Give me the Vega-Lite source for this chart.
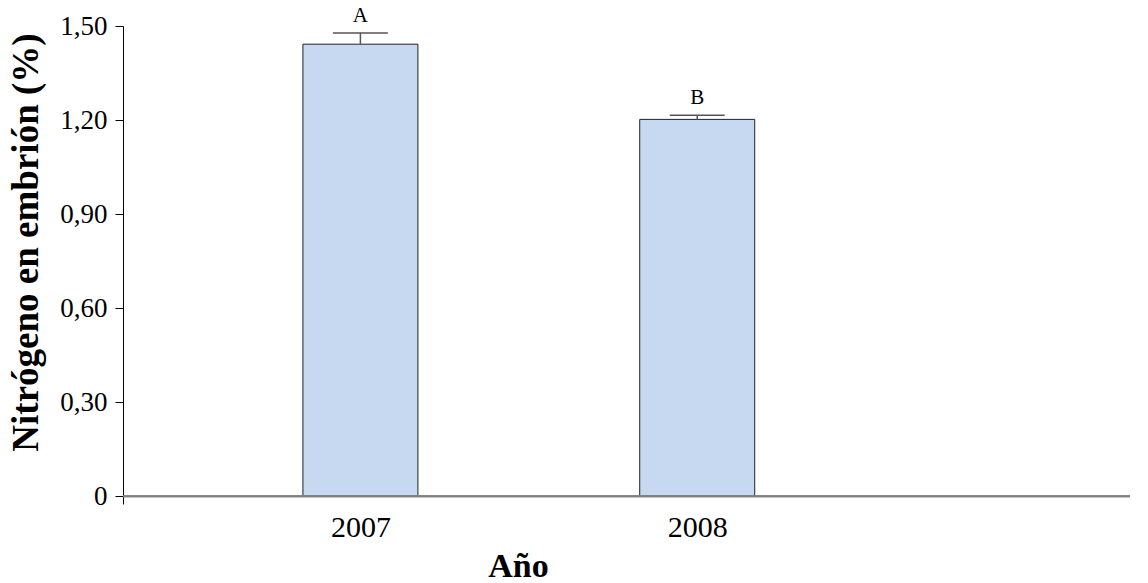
{
  "$schema": "https://vega.github.io/schema/vega-lite/v6.json",
  "autosize": {"type": "none"},
  "padding": {"left": 123, "top": 26, "right": 18, "bottom": 79},
  "width": 1007,
  "height": 478,
  "background": "white",
  "config": {
    "view": {"stroke": null},
    "font": "Liberation Serif"
  },
  "data": {
    "values": [
      {"year": 2007, "value": 1.442, "upper": 1.478, "letter": "A"},
      {"year": 2008, "value": 1.202, "upper": 1.215, "letter": "B"}
    ]
  },
  "layer": [
    {
      "mark": {"type": "bar", "size": 115, "fill": "#C6D9F0", "stroke": "#222222", "strokeWidth": 1},
      "encoding": {
        "x": {
          "field": "year", "type": "quantitative",
          "scale": {"domain": [2006.31, 2009.27], "nice": false, "zero": false},
          "axis": {
            "values": [2007, 2008], "format": "d", "ticks": false, "domain": false, "grid": false,
            "labelFont": "Liberation Serif", "labelFontSize": 30, "labelColor": "black", "labelPadding": 8,
            "title": "Año", "titleFont": "Liberation Serif", "titleFontSize": 34, "titleFontWeight": "bold",
            "titleColor": "black", "titleX": 395, "titleY": 72, "titleAlign": "center", "titleBaseline": "alphabetic"
          }
        },
        "y": {
          "field": "value", "type": "quantitative",
          "scale": {"domain": [-0.025, 1.5], "nice": false, "zero": false},
          "axis": {
            "values": [0, 0.3, 0.6, 0.9, 1.2, 1.5],
            "labelExpr": "datum.value == 0 ? '0' : replace(format(datum.value, '.2f'), '.', ',')",
            "grid": false, "domainColor": "black", "tickColor": "black", "tickSize": 8,
            "labelFont": "Liberation Serif", "labelFontSize": 27, "labelColor": "black", "labelPadding": 8,
            "title": "Nitrógeno en embrión (%)", "titleFont": "Liberation Serif", "titleFontSize": 37,
            "titleFontWeight": "bold", "titleColor": "black", "titleX": -86, "titleY": 216,
            "titleAlign": "center", "titleBaseline": "alphabetic", "titleAngle": -90
          }
        },
        "y2": {"datum": 0}
      }
    },
    {
      "mark": {"type": "rule", "color": "#808080", "strokeWidth": 2},
      "encoding": {"y": {"datum": 0, "type": "quantitative"}}
    },
    {
      "mark": {"type": "rule", "color": "#555555", "strokeWidth": 1.5},
      "encoding": {
        "x": {"field": "year", "type": "quantitative"},
        "y": {"field": "value", "type": "quantitative"},
        "y2": {"field": "upper"}
      }
    },
    {
      "mark": {"type": "tick", "orient": "horizontal", "size": 55, "thickness": 1.5, "color": "#555555", "opacity": 1},
      "encoding": {
        "x": {"field": "year", "type": "quantitative"},
        "y": {"field": "upper", "type": "quantitative"}
      }
    },
    {
      "mark": {"type": "text", "font": "Liberation Serif", "fontSize": 21, "color": "black", "dy": -17, "baseline": "middle"},
      "encoding": {
        "x": {"field": "year", "type": "quantitative"},
        "y": {"field": "upper", "type": "quantitative"},
        "text": {"field": "letter"}
      }
    }
  ]
}
